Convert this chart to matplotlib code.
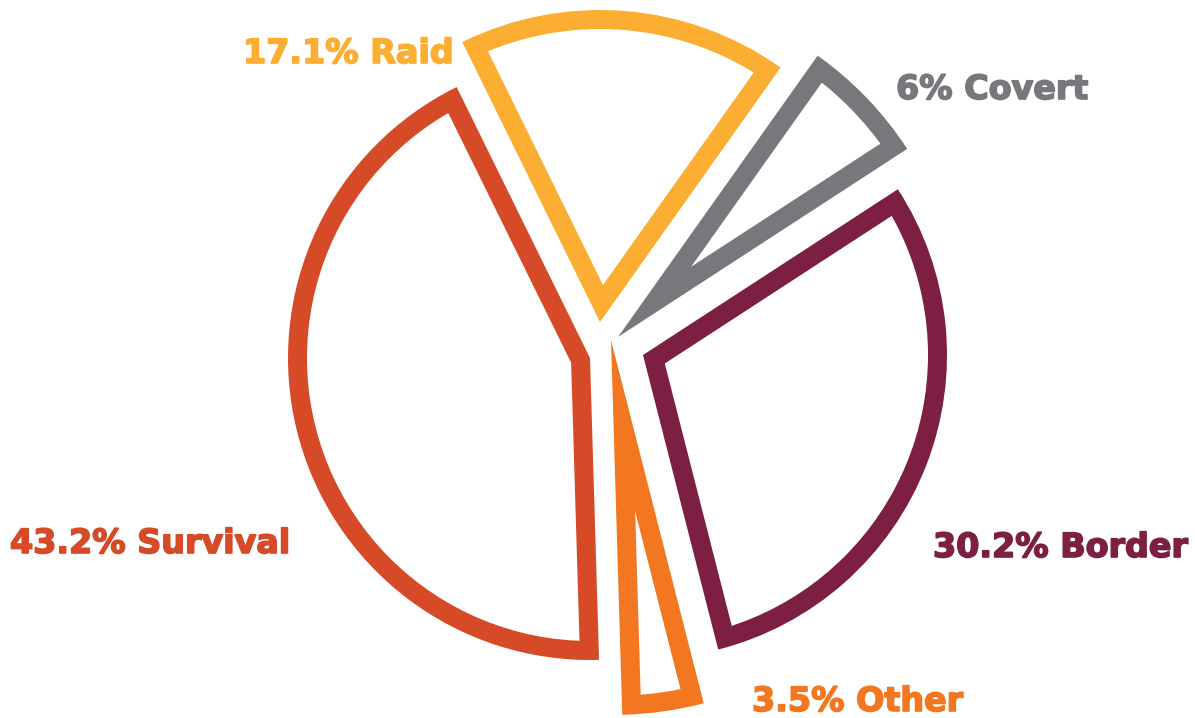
import numpy as np
import matplotlib.pyplot as plt
import matplotlib.patheffects as pe
from matplotlib.patches import Wedge, Circle

# data (clockwise from the top-left edge of the Raid slice)
labels = ["Raid", "Covert", "Border", "Other", "Survival"]
shares = [17.1, 6.0, 30.2, 3.5, 43.2]
pct_text = ["17.1%", "6%", "30.2%", "3.5%", "43.2%"]
colors = ["#FBAE32", "#77787B", "#7D1F42", "#F37721", "#D64A27"]

# layout, in pixels (y pointing up)
W, H = 1195, 718
apex = [(600, 396), (618, 381), (643, 363), (611, 378), (590, 360)]
radius = [312, 345, 304, 375, 302]
stroke = 19
start = 116.2
label_pos = [(243, 655), (896, 619), (933, 161), (752, 7), (10, 165)]

fig = plt.figure(figsize=(W / 100, H / 100), dpi=100)
ax = fig.add_axes([0, 0, 1, 1])
ax.set_xlim(0, W)
ax.set_ylim(0, H)
ax.axis("off")

ends = start - 3.6 * np.cumsum(shares)
begins = np.r_[start, ends[:-1]]

for i in range(len(shares)):
    t1, t2 = ends[i], begins[i]
    cx, cy = apex[i]
    r = radius[i]
    ax.add_patch(Wedge((cx, cy), r, t1, t2, facecolor=colors[i], edgecolor="none"))

    # hollow it out: inner wedge moved along the bisector, clipped to a smaller circle
    half = np.radians((t2 - t1) / 2)
    mid = np.radians((t1 + t2) / 2)
    d = stroke / np.sin(half)
    inner = Wedge((cx + d * np.cos(mid), cy + d * np.sin(mid)), r + d, t1, t2,
                  facecolor="white", edgecolor="none")
    ax.add_patch(inner)
    clip = Circle((cx, cy), r - stroke, transform=ax.transData)
    inner.set_clip_path(clip)

    ax.text(label_pos[i][0], label_pos[i][1], pct_text[i] + " " + labels[i],
            color=colors[i], fontsize=24, fontweight="bold",
            ha="left", va="baseline", family="DejaVu Sans",
            path_effects=[pe.withStroke(linewidth=1.2, foreground=colors[i])])

fig.savefig("out.png", dpi=100, facecolor="white")
